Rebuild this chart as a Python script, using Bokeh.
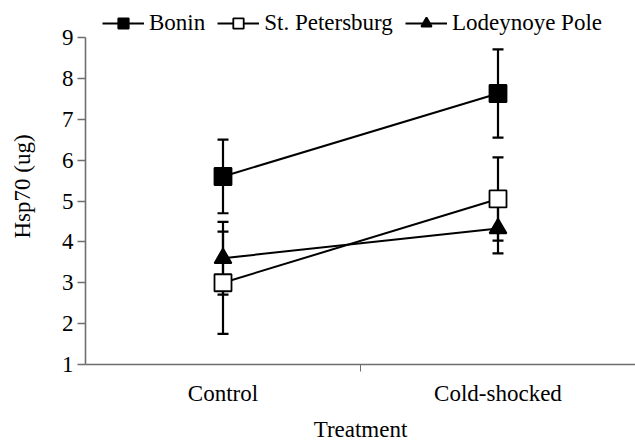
from bokeh.plotting import figure
from bokeh.models import (ColumnDataSource, Legend, LegendItem, FixedTicker,
                          Whisker, TeeHead, Range1d)
from bokeh.embed import file_html
from bokeh.resources import INLINE

# ---- data ----
categories = ["Control", "Cold-shocked"]
series_names = ["Bonin", "St. Petersburg", "Lodeynoye Pole"]
bonin_mean = [5.60, 7.63]
bonin_err = [0.90, 1.08]
stp_mean = [3.00, 5.05]
stp_err = [1.25, 1.02]
lod_mean = [3.60, 4.33]
lod_err = [0.89, 0.61]
y_ticks = [1, 2, 3, 4, 5, 6, 7, 8, 9]
x_label = "Treatment"
y_label = "Hsp70 (ug)"

FONT = "Liberation Serif"
FS = "23px"

x_pos = [i + 0.5 for i in range(len(categories))]

# y range extends above the last tick to leave room for the legend;
# the axis line itself is bounded to the tick range
p = figure(width=635, height=444, output_backend="svg", toolbar_location=None,
           x_range=Range1d(0, len(categories)), y_range=Range1d(1, 9.71),
           min_border_left=85, min_border_right=0, min_border_top=8,
           min_border_bottom=80)
p.grid.visible = False
p.outline_line_color = None
p.background_fill_color = "white"
p.border_fill_color = "white"

series = [
    (series_names[0], bonin_mean, bonin_err, "square", "black"),
    (series_names[1], stp_mean, stp_err, "square", "white"),
    (series_names[2], lod_mean, lod_err, "triangle", "black"),
]

items = []
for name, mean, err, marker, fill in series:
    src = ColumnDataSource(dict(
        x=x_pos, y=mean,
        upper=[m + e for m, e in zip(mean, err)],
        lower=[m - e for m, e in zip(mean, err)],
    ))
    w = Whisker(base="x", upper="upper", lower="lower", source=src,
                dimension="height", line_color="black", line_width=2.2,
                upper_head=TeeHead(size=11, line_color="black", line_width=2.2),
                lower_head=TeeHead(size=11, line_color="black", line_width=2.2))
    p.add_layout(w)
    ln = p.line("x", "y", source=src, line_color="black", line_width=2)
    sc = p.scatter("x", "y", source=src, marker=marker, size=17,
                   fill_color=fill, line_color="black", line_width=1.8)
    items.append(LegendItem(label=name, renderers=[ln, sc]))

legend = Legend(items=items, orientation="horizontal", location=(17, 328),
                glyph_width=42, glyph_height=26, label_height=26,
                label_standoff=5, spacing=12,
                padding=0, margin=0, border_line_color=None,
                background_fill_alpha=0,
                label_text_font=FONT, label_text_font_size=FS,
                label_text_color="black")
p.add_layout(legend)

# x axis
xa = p.xaxis[0]
xa.ticker = FixedTicker(ticks=x_pos, minor_ticks=[1])
xa.major_label_overrides = {x: c for x, c in zip(x_pos, categories)}
xa.major_tick_out = 0
xa.major_tick_in = 0
xa.minor_tick_out = 7
xa.minor_tick_in = 0
xa.minor_tick_line_color = "#6e6e6e"
xa.axis_line_color = "#6e6e6e"
xa.axis_line_width = 1.6
xa.major_label_standoff = 9
xa.axis_label = x_label
xa.axis_label_standoff = 8

# y axis
ya = p.yaxis[0]
ya.ticker = FixedTicker(ticks=y_ticks)
ya.bounds = (y_ticks[0], y_ticks[-1])
ya.major_tick_out = 8
ya.major_tick_in = 0
ya.major_tick_line_color = "#6e6e6e"
ya.major_tick_line_width = 1.4
ya.axis_line_color = "#6e6e6e"
ya.axis_line_width = 1.6
ya.major_label_standoff = 4
ya.axis_label = y_label
ya.axis_label_standoff = 24

for ax in (xa, ya):
    ax.major_label_text_font = FONT
    ax.major_label_text_font_size = FS
    ax.major_label_text_color = "black"
    ax.axis_label_text_font = FONT
    ax.axis_label_text_font_size = FS
    ax.axis_label_text_font_style = "normal"
    ax.axis_label_text_color = "black"

open("out.html", "w").write(file_html(p, INLINE))
